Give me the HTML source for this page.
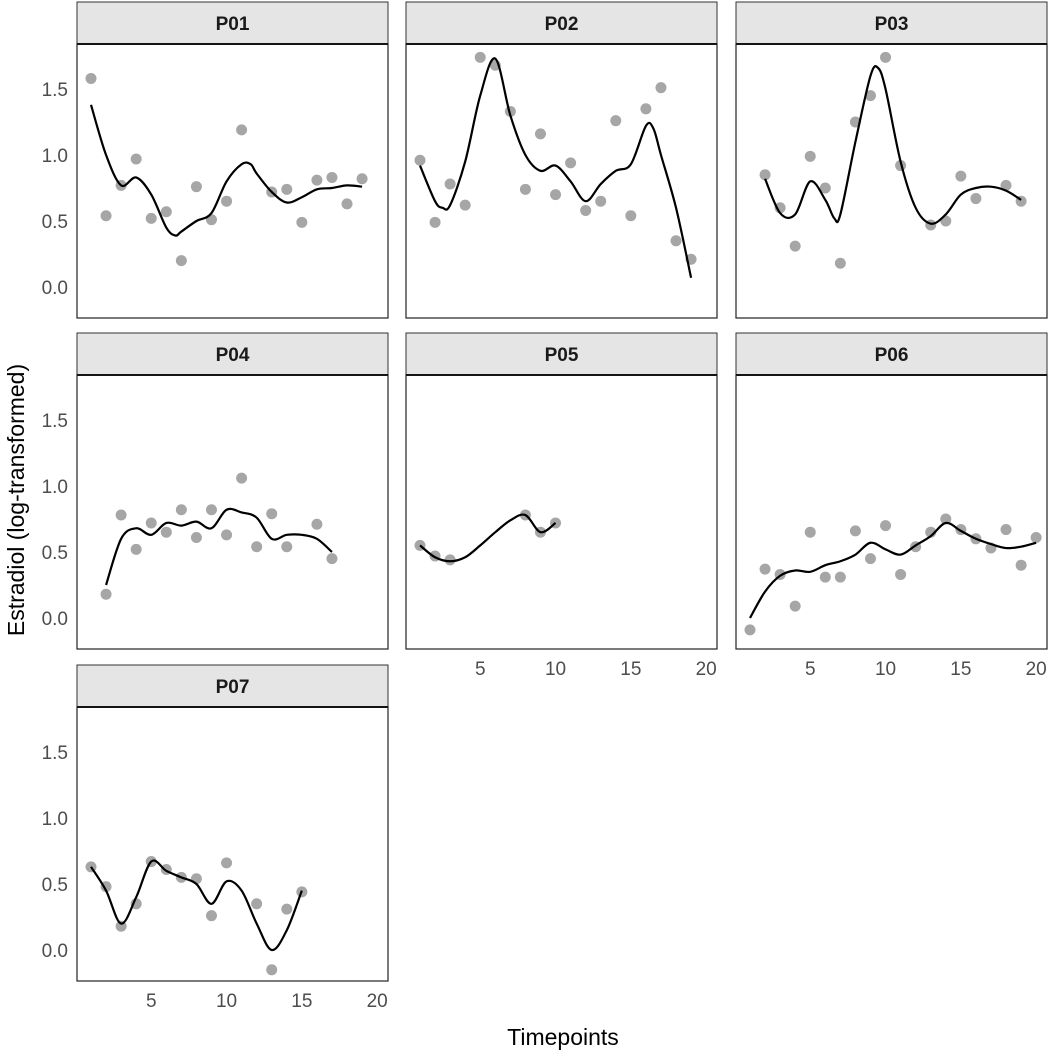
<!DOCTYPE html>
<html><head><meta charset="utf-8"><style>
body{margin:0;background:#fff}
svg text{font-family:"Liberation Sans",Arial,sans-serif}
</style></head><body>
<svg id="c" width="1052" height="1051" xmlns="http://www.w3.org/2000/svg"></svg>
<script>
const panelNames=["P01","P02","P03","P04","P05","P06","P07"];
const p01T=[1,2,3,4,5,6,7,8,9,10,11,13,14,15,16,17,18,19];
const p01V=[1.58,0.54,0.77,0.97,0.52,0.57,0.20,0.76,0.51,0.65,1.19,0.72,0.74,0.49,0.81,0.83,0.63,0.82];
const p01CT=[1,2,3,4,5,6,6.6,7,8,9,10,11,11.6,12,13,14,15,16,17,18,19];
const p01CV=[1.38,1.0,0.77,0.83,0.7,0.45,0.39,0.42,0.5,0.56,0.8,0.93,0.93,0.86,0.72,0.64,0.68,0.74,0.75,0.77,0.76];
const p02T=[1,2,3,4,5,6,7,8,9,10,11,12,13,14,15,16,17,18,19];
const p02V=[0.96,0.49,0.78,0.62,1.74,1.68,1.33,0.74,1.16,0.70,0.94,0.58,0.65,1.26,0.54,1.35,1.51,0.35,0.21];
const p02CT=[1,2,2.5,3,4,5,6,7,8,9,10,11,12,13,14,15,16,16.5,17,18,19];
const p02CV=[0.92,0.65,0.6,0.62,0.95,1.45,1.73,1.3,1.0,0.88,0.92,0.8,0.65,0.78,0.88,0.93,1.22,1.2,1.0,0.6,0.07];
const p03T=[2,3,4,5,6,7,8,9,10,11,13,14,15,16,18,19];
const p03V=[0.85,0.60,0.31,0.99,0.75,0.18,1.25,1.45,1.74,0.92,0.47,0.50,0.84,0.67,0.77,0.65];
const p03CT=[2,3,4,5,6,6.6,7,8,9,9.5,10,11,12,13,14,15,16,17,18,19];
const p03CV=[0.82,0.56,0.55,0.8,0.66,0.52,0.55,1.1,1.6,1.66,1.5,0.95,0.6,0.48,0.55,0.7,0.75,0.76,0.73,0.66];
const p04T=[2,3,4,5,6,7,8,9,10,11,12,13,14,16,17];
const p04V=[0.18,0.78,0.52,0.72,0.65,0.82,0.61,0.82,0.63,1.06,0.54,0.79,0.54,0.71,0.45];
const p04CT=[2,3,4,5,6,7,8,9,10,11,12,13,14,15,16,17];
const p04CV=[0.25,0.6,0.68,0.63,0.72,0.7,0.73,0.68,0.82,0.8,0.76,0.6,0.63,0.63,0.6,0.5];
const p05T=[1,2,3,8,9,10];
const p05V=[0.55,0.47,0.44,0.78,0.65,0.72];
const p05CT=[1,2,3,4,5,6,7,8,9,10];
const p05CV=[0.55,0.46,0.43,0.46,0.55,0.65,0.74,0.78,0.65,0.72];
const p06T=[1,2,3,4,5,6,7,8,9,10,11,12,13,14,15,16,17,18,19,20];
const p06V=[-0.09,0.37,0.33,0.09,0.65,0.31,0.31,0.66,0.45,0.70,0.33,0.54,0.65,0.75,0.67,0.60,0.53,0.67,0.40,0.61];
const p06CT=[1,2,3,4,5,6,7,8,9,10,11,12,13,14,15,16,17,18,19,20];
const p06CV=[0.0,0.2,0.32,0.36,0.35,0.4,0.43,0.48,0.57,0.52,0.48,0.55,0.62,0.72,0.66,0.6,0.56,0.53,0.54,0.57];
const p07T=[1,2,3,4,5,6,7,8,9,10,12,13,14,15];
const p07V=[0.63,0.48,0.18,0.35,0.67,0.61,0.55,0.54,0.26,0.66,0.35,-0.15,0.31,0.44];
const p07CT=[1,2,3,4,5,6,7,8,9,10,11,12,13,14,15];
const p07CV=[0.63,0.45,0.2,0.4,0.67,0.6,0.55,0.5,0.35,0.52,0.45,0.2,0.0,0.15,0.45];
const yTicks=[0,0.5,1.0,1.5];
const yTickLabels=["0.0","0.5","1.0","1.5"];
const xTicks=[5,10,15,20];
const xTickLabels=["5","10","15","20"];

const pts=[[p01T,p01V,p01CT,p01CV],[p02T,p02V,p02CT,p02CV],[p03T,p03V,p03CT,p03CV],[p04T,p04V,p04CT,p04CV],[p05T,p05V,p05CT,p05CV],[p06T,p06V,p06CT,p06CV],[p07T,p07V,p07CT,p07CV]];
const svg=document.getElementById('c');
const NS="http://www.w3.org/2000/svg";
function mk(tag,attrs,parent){const e=document.createElementNS(NS,tag);for(const k in attrs)e.setAttribute(k,attrs[k]);(parent||svg).appendChild(e);return e;}
const colL=[77,406,736], rowT=[2,333,665], W=311, SH=42, PH=274;
function spline(xs,ys){let d="M"+xs[0]+","+ys[0];for(let i=0;i<xs.length-1;i++){const x0=xs[Math.max(0,i-1)],y0=ys[Math.max(0,i-1)],x1=xs[i],y1=ys[i],x2=xs[i+1],y2=ys[i+1],x3=xs[Math.min(xs.length-1,i+2)],y3=ys[Math.min(xs.length-1,i+2)];d+=" C"+(x1+(x2-x0)/6)+","+(y1+(y2-y0)/6)+" "+(x2-(x3-x1)/6)+","+(y2-(y3-y1)/6)+" "+x2+","+y2;}return d;}
panelNames.forEach((nm,i)=>{
  const L=colL[i%3], T=rowT[Math.floor(i/3)], pT=T+SH;
  const xs=t=>L+14+(t-1)*15.06;
  const ys=v=>pT+243-v*132;
  const g=mk('g',{});
  
  
  const st=mk('rect',{x:L,y:T,width:W,height:SH,fill:'#e5e5e5',stroke:'#333','stroke-width':1},g);
  
  
  const sl=mk('line',{x1:L,x2:L+W,y1:pT,y2:pT,stroke:'#000','stroke-width':2},g);
  
  
  const tx=mk('text',{x:L+W/2,y:T+28,'text-anchor':'middle','font-size':19,'font-weight':'bold',fill:'#1a1a1a'},g);tx.textContent=nm;
  
  
  const bd=mk('rect',{x:L,y:pT,width:W,height:PH,fill:'none',stroke:'#222','stroke-width':1.2},g);
  
  
  const [T1,V1,CT,CV]=pts[i];
  T1.forEach((t,j)=>{const c=mk('circle',{cx:xs(t),cy:ys(V1[j]),r:5.5,fill:'#a6a6a6'},g);
    
    });
  const p=mk('path',{d:spline(CT.map(xs),CV.map(ys)),fill:'none',stroke:'#000','stroke-width':2.2},g);
  
  
  if(i%3===0){yTicks.forEach((v,j)=>{const t=mk('text',{x:68,y:ys(v)+7,'text-anchor':'end','font-size':19,fill:'#4d4d4d'});t.textContent=yTickLabels[j];
    
    });}
  if(i>=4){xTicks.forEach((v,j)=>{const t=mk('text',{x:xs(v),y:pT+PH+26,'text-anchor':'middle','font-size':19,fill:'#4d4d4d'});t.textContent=xTickLabels[j];
    
    });}
});
const yt=mk('text',{x:0,y:0,transform:'translate(24,500) rotate(-90)','text-anchor':'middle','font-size':23,fill:'#000'});yt.textContent="Estradiol (log-transformed)";


const xt=mk('text',{x:563,y:1045,'text-anchor':'middle','font-size':23,fill:'#000'});xt.textContent="Timepoints";


</script>
</body></html>
